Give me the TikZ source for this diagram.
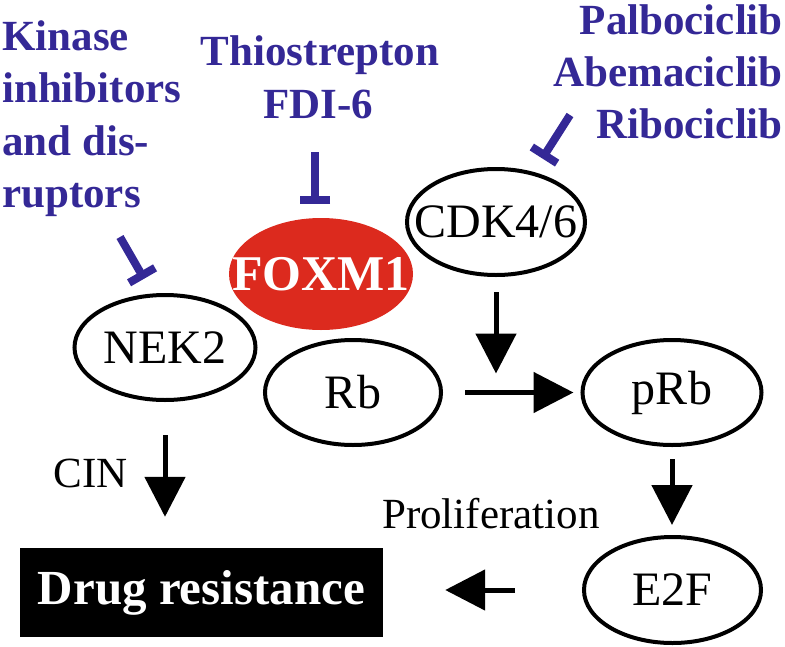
\documentclass[tikz,border=0pt]{standalone}
\usepackage{fontspec}
\setmainfont{Liberation Serif}
\usetikzlibrary{arrows.meta,shapes.geometric}
\definecolor{drugblue}{RGB}{52,40,150}
\definecolor{foxred}{RGB}{220,42,30}
\begin{document}
\begin{tikzpicture}[x=1pt,y=-1pt,
  bluelabel/.style={text=drugblue, font=\fontsize{43}{52}\selectfont\bfseries, inner sep=0pt},
  gene/.style={draw, ellipse, line width=4pt, inner sep=0pt, font=\fontsize{48}{56}\selectfont},
  lbl/.style={font=\fontsize{43}{52}\selectfont, inner sep=0pt},
  arr/.style={line width=5pt, -{Triangle[length=40pt,width=40pt]}},
  inhib/.style={draw=drugblue, line width=8pt, -{Bar[width=30pt]}}]
\useasboundingbox (0,0) rectangle (785,646);

% drug labels
\node[bluelabel, anchor=base west] (kin1) at (2,50) {Kinase};
\node[bluelabel, anchor=base west] (kin2) at (2,102.5) {inhibitors};
\node[bluelabel, anchor=base west] (kin3) at (2,155) {and dis-};
\node[bluelabel, anchor=base west] (kin4) at (2,207.5) {ruptors};
\node[bluelabel, anchor=base] (thio) at (320,65) {Thiostrepton};
\node[bluelabel, anchor=base] (fdi) at (318,118) {FDI-6};
\node[bluelabel, anchor=base east] (palbo) at (783,34) {Palbociclib};
\node[bluelabel, anchor=base east] (abema) at (783,86) {Abemaciclib};
\node[bluelabel, anchor=base east] (ribo) at (783,138) {Ribociclib};

% nodes
\node[ellipse, fill=foxred, minimum width=184pt, minimum height=112pt, inner sep=0pt,
      text=white, font=\fontsize{50}{56}\selectfont\bfseries] (foxm1) at (321,274) {\makebox[0pt]{FOXM1}};
\node[gene, minimum width=178pt, minimum height=106pt] (cdk) at (496,222) {\makebox[0pt]{CDK4/6}};
\node[gene, minimum width=181pt, minimum height=105pt] (nek2) at (165,347.5) {\makebox[0pt]{NEK2}};
\node[gene, minimum width=176pt, minimum height=105pt] (rb) at (353,392.5) {\makebox[0pt]{Rb}};
\node[gene, minimum width=179pt, minimum height=105pt] (prb) at (672,392.5) {\makebox[0pt]{pRb}};
\node[gene, minimum width=177pt, minimum height=106pt] (e2f) at (672.5,590) {\makebox[0pt]{E2F}};
\node[fill=black, minimum width=363pt, minimum height=89pt, inner sep=0pt, text=white,
      font=\fontsize{49}{56}\selectfont\bfseries] (drug) at (201.5,592.5) {Drug resistance};

\node[lbl, anchor=base east] (cin) at (128,487) {CIN};
\node[lbl, anchor=base west] (prolif) at (382,528) {Proliferation};

% activation arrows
\draw[arr, shorten <=33pt, shorten >=31pt] (nek2.south) -- (nek2.south |- drug.north);
\draw[arr, shorten <=15pt, shorten >=19pt] (cdk.south) -- (cdk.south |- rb.east);
\draw[arr, shorten <=22pt, shorten >=7pt] (rb.east) -- (prb.west);
\draw[arr, shorten <=12pt, shorten >=10pt] (prb.south) -- (prb.south |- e2f.north);
\draw[arr, shorten <=67pt, shorten >=62pt] (e2f.west) -- (drug.east |- e2f.west);

% inhibition
\coordinate (t0) at (315,152);
\draw[inhib, shorten >=14pt] (t0) -- (t0 |- foxm1.north);
\coordinate (k0) at (120,237);
\draw[inhib, shorten >=17pt] (k0) -- (nek2.103);
\coordinate (c0) at (570,115);
\draw[inhib, shorten >=16pt] (c0) -- (cdk.53);
\end{tikzpicture}
\end{document}
